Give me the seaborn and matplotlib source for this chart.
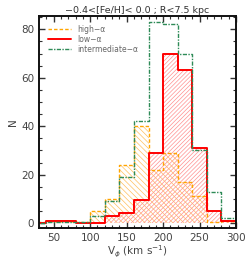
import numpy as np
import pandas as pd
import matplotlib
matplotlib.use("Agg")
import matplotlib.pyplot as plt
import seaborn as sns
from matplotlib.ticker import MultipleLocator

# bin edges of the V_phi histogram (km/s)
bin_edges = list(range(20, 320, 20))
bin_centers = [e + 10 for e in bin_edges[:-1]]

# counts per bin
high_alpha = [0.5, 1, 1, 0.5, 5, 10, 24, 40, 22, 29, 17, 11, 0.5, 1]
low_alpha = [0, 1, 1, 0, 0, 3, 4, 9.5, 29, 70, 63, 31, 5, 1]
inter_alpha = [0, 0.5, 0.5, 0.5, 3, 9, 19, 42, 83, 82, 70, 30, 13, 2]

df = pd.DataFrame({
    "vphi": bin_centers,
    "high": high_alpha,
    "low": low_alpha,
    "inter": inter_alpha,
})

sns.set_style("ticks")
plt.rcParams["font.family"] = ["DejaVu Sans"]
plt.rcParams["hatch.linewidth"] = 0.5

fig = plt.figure(figsize=(2.49, 2.66), dpi=100)
ax = fig.add_axes([0.157, 0.143, 0.791, 0.797])


def hatched(col, hatch, hcolor):
    n_before = len(ax.collections)
    sns.histplot(data=df, x="vphi", weights=col, bins=bin_edges, element="step",
                 fill=True, ax=ax, color=hcolor, linewidth=0)
    for coll in ax.collections[n_before:]:
        coll.set_facecolor("none")
        coll.set_edgecolor(hcolor)
        coll.set_hatch(hatch)
        coll.set_linewidth(0)


hatched("high", "\\\\\\\\\\\\", "#FFC060")
hatched("low", "////////", "#FF9090")

styles = [
    ("high", "high−α", "#FFA500", (0, (2.5, 1.5)), 1.0),
    ("low", "low−α", "#FF0000", "-", 1.4),
    ("inter", "intermediate−α", "#2E8B57", (0, (3, 1, 1, 1)), 1.0),
]
for col, label, color, ls, lw in styles:
    sns.histplot(data=df, x="vphi", weights=col, bins=bin_edges, element="step",
                 fill=False, ax=ax, color=color, linestyle=ls, linewidth=lw,
                 label=label)

ax.set_xlim(30, 300)
ax.set_ylim(-2, 85.5)
ax.xaxis.set_major_locator(MultipleLocator(50))
ax.xaxis.set_minor_locator(MultipleLocator(10))
ax.yaxis.set_major_locator(MultipleLocator(20))
ax.yaxis.set_minor_locator(MultipleLocator(5))
ax.tick_params(which="both", direction="in", top=True, right=True,
               labelsize=7.5, colors="#333333", labelcolor="#444444")
ax.tick_params(which="major", length=4, width=1)
ax.tick_params(which="minor", length=2, width=0.8)
for s in ax.spines.values():
    s.set_linewidth(1.4)
    s.set_color("#111111")

ax.set_xlabel(r"V$_\phi$ (km s$^{-1}$)", fontsize=7.5, color="#444444", labelpad=1)
ax.set_ylabel("N", fontsize=7.5, color="#444444", labelpad=2)
ax.set_title("−0.4<[Fe/H]< 0.0 ; R<7.5 kpc", fontsize=6.8, color="#333333", pad=2)

leg = ax.legend(loc="upper left", frameon=False, fontsize=5.5, handlelength=3,
                handletextpad=0.8, labelspacing=0.1, borderaxespad=0.8)
for t in leg.get_texts():
    t.set_color("#666666")

fig.savefig("out.png", dpi=100)
